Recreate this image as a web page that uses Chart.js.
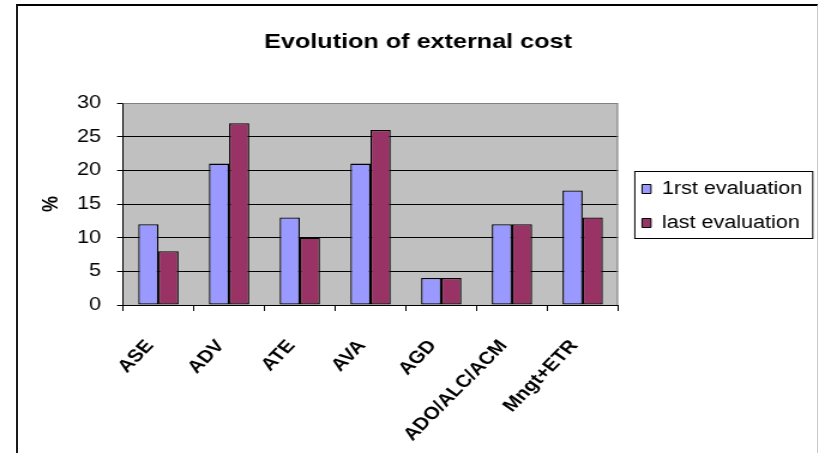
<!DOCTYPE html>
<html>
<head>
<meta charset="utf-8">
<script src="https://cdn.jsdelivr.net/npm/chart.js@4/dist/chart.umd.min.js"></script>
<style>
  html, body { margin: 0; padding: 0; background: #fff; }
  #wrap { position: relative; width: 819px; height: 453px; overflow: hidden; }
  #frame {
    position: absolute; left: 16px; top: 4px; width: 799px; height: 480px;
    border-top: 2px solid #000; border-left: 2px solid #1a1a1a; border-right: 1px solid #c8c8c8;
  }
  /* the drawing is laid out on a narrower canvas and widened, which gives the wide lettering */
  #c { position: absolute; left: 0; top: 0; transform-origin: 0 0; transform: scaleX(1.19912); }
</style>
</head>
<body>
<div id="wrap">
  <div id="frame"></div>
  <canvas id="c" width="683" height="453"></canvas>
</div>
<script>
// External cost per unit, in percent
const categories = ['ASE', 'ADV', 'ATE', 'AVA', 'AGD', 'ADO/ALC/ACM', 'Mngt+ETR'];
const firstEvaluation = [12, 21, 13, 21, 4, 12, 17];
const lastEvaluation = [8, 27, 10, 26, 4, 12, 13];
const seriesNames = ['1rst evaluation', 'last evaluation'];
const yMin = 0, yMax = 30, yStep = 5;

const FONT = "'Liberation Sans', Arial, Helvetica, sans-serif";
// category labels slant at 45 degrees once the canvas is widened
const LABEL_ROTATION = Math.atan(1.19912) * 180 / Math.PI;

// Grey plot background, grey top/right frame, and the box round the legend
const plotFrame = {
  id: 'plotFrame',
  beforeLayout(chart) {
    const legend = chart.legend;
    if (legend && !legend.__fixedWidth) {
      const fit = legend.fit;
      legend.fit = function () { fit.call(this); this.width = 167.6; };
      legend.__fixedWidth = true;
    }
  },
  afterLayout(chart) {
    const legend = chart.legend;
    legend.left += 4; legend.right += 4;
    legend.top += 2; legend.bottom += 2;
  },
  beforeDraw(chart) {
    const { ctx, chartArea: a } = chart;
    ctx.save();
    ctx.fillStyle = '#c0c0c0';
    ctx.fillRect(a.left, a.top, a.right - a.left, a.bottom - a.top);
    ctx.restore();
  },
  beforeDatasetsDraw(chart) {
    const { ctx, chartArea: a } = chart;
    ctx.save();
    ctx.strokeStyle = '#808080';
    ctx.lineWidth = 1;
    ctx.beginPath();
    ctx.moveTo(a.left, a.top + 0.5);
    ctx.lineTo(a.right - 0.5, a.top + 0.5);
    ctx.lineTo(a.right - 0.5, a.bottom);
    ctx.stroke();
    ctx.restore();
  },
  afterDraw(chart) {
    const { ctx } = chart;
    const lg = chart.legend;
    ctx.save();
    ctx.strokeStyle = '#000';
    ctx.lineWidth = 1;
    ctx.strokeRect(lg.left + 10, 171.5, 148.4, 67);
    ctx.restore();
  }
};

new Chart(document.getElementById('c'), {
  type: 'bar',
  data: {
    labels: categories,
    datasets: [
      {
        label: seriesNames[0],
        data: firstEvaluation,
        backgroundColor: '#9999ff',
        borderColor: '#000',
        borderWidth: 1.3,
        borderSkipped: false
      },
      {
        label: seriesNames[1],
        data: lastEvaluation,
        backgroundColor: '#993366',
        borderColor: '#000',
        borderWidth: 1.3,
        borderSkipped: false
      }
    ]
  },
  options: {
    responsive: false,
    devicePixelRatio: 1,
    animation: false,
    layout: { padding: { left: 14.2, right: 0, top: 0, bottom: 0 } },
    datasets: { bar: { categoryPercentage: 0.57, barPercentage: 1.0 } },
    plugins: {
      title: {
        display: true,
        text: 'Evolution of external cost',
        color: '#000',
        font: { family: FONT, size: 21, weight: 'bold' },
        padding: { top: 29.4, bottom: 48.4 }
      },
      legend: {
        display: true,
        position: 'right',
        fullSize: false,
        align: 'center',
        labels: {
          color: '#000',
          font: { family: FONT, size: 18 },
          boxWidth: 7.5,
          boxHeight: 9,
          padding: 16,
          generateLabels(chart) {
            return chart.data.datasets.map((ds, i) => ({
              text: ds.label,
              fillStyle: ds.backgroundColor,
              strokeStyle: '#000',
              lineWidth: 1,
              hidden: false,
              datasetIndex: i,
              fontColor: '#000'
            }));
          }
        }
      },
      tooltip: { enabled: false }
    },
    scales: {
      x: {
        grid: {
          display: true,
          offset: true,
          drawOnChartArea: false,
          drawTicks: true,
          tickLength: 6,
          color: '#000',
          tickColor: '#000'
        },
        border: { display: true, color: '#000', width: 1 },
        ticks: {
          color: '#000',
          font: { family: FONT, size: 17.5, weight: 'bold' },
          minRotation: LABEL_ROTATION,
          maxRotation: LABEL_ROTATION,
          autoSkip: false,
          padding: 25,
          labelOffset: -7
        },
        afterFit(scale) { scale.height = 148; }
      },
      y: {
        min: yMin,
        max: yMax,
        ticks: {
          stepSize: yStep,
          color: '#000',
          font: { family: FONT, size: 18 },
          padding: 13.4
        },
        grid: {
          display: true,
          drawTicks: true,
          tickLength: 5,
          color: (c) => (c.tick && c.tick.value === yMax ? '#808080' : '#000'),
          tickColor: '#000',
          lineWidth: 1
        },
        border: { display: true, color: '#000', width: 1 },
        title: {
          display: true,
          text: '%',
          color: '#000',
          font: { family: FONT, size: 18, weight: 'bold' },
          padding: { top: 18.4, bottom: 0 }
        },
        afterFit(scale) { scale.width = 88.4; }
      }
    }
  },
  plugins: [plotFrame]
});
</script>
</body>
</html>
